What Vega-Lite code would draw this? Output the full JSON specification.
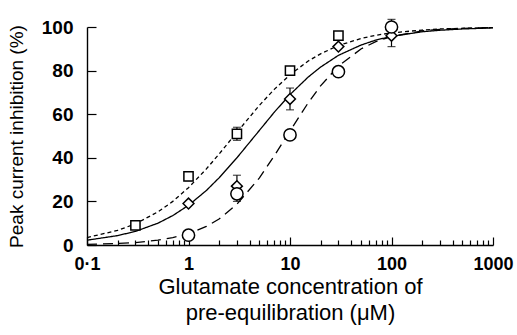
{
"$schema": "https://vega.github.io/schema/vega-lite/v6.json",
"width": 406, "height": 218,
"autosize": "none",
"padding": {"left": 87, "top": 27, "right": 24, "bottom": 90},
"background": "white",
"config": {
  "view": {"stroke": null},
  "font": "Liberation Sans",
  "axis": {"domainColor": "black", "tickColor": "black", "labelColor": "black", "titleColor": "black", "domainWidth": 1.4, "tickWidth": 1.2, "labelFontSize": 18, "labelFontWeight": "bold", "titleFontSize": 19, "titleFontWeight": "normal", "grid": false}
},
"datasets": {
  "curves": [
    {"series":"sq","x":0.1,"y":3.4},{"series":"sq","x":0.2,"y":6.7},{"series":"sq","x":0.3,"y":9.7},{"series":"sq","x":0.5,"y":15.2},{"series":"sq","x":0.7,"y":20},{"series":"sq","x":1,"y":26.3},{"series":"sq","x":1.5,"y":34.9},{"series":"sq","x":2,"y":41.7},{"series":"sq","x":3,"y":51.7},{"series":"sq","x":5,"y":64.1},{"series":"sq","x":7,"y":71.4},{"series":"sq","x":10,"y":78.1},{"series":"sq","x":15,"y":84.3},{"series":"sq","x":20,"y":87.7},{"series":"sq","x":30,"y":91.5},{"series":"sq","x":50,"y":94.7},{"series":"sq","x":70,"y":96.2},{"series":"sq","x":100,"y":97.3},{"series":"sq","x":200,"y":98.6},{"series":"sq","x":300,"y":99.1},{"series":"sq","x":500,"y":99.4},{"series":"sq","x":1000,"y":99.7},
    {"series":"di","x":0.1,"y":2.2},{"series":"di","x":0.2,"y":4.3},{"series":"di","x":0.3,"y":6.25},{"series":"di","x":0.5,"y":10},{"series":"di","x":0.7,"y":13.5},{"series":"di","x":1,"y":18.2},{"series":"di","x":1.5,"y":25},{"series":"di","x":2,"y":30.8},{"series":"di","x":3,"y":40},{"series":"di","x":5,"y":52.6},{"series":"di","x":7,"y":60.9},{"series":"di","x":10,"y":69},{"series":"di","x":15,"y":76.9},{"series":"di","x":20,"y":81.6},{"series":"di","x":30,"y":87},{"series":"di","x":50,"y":91.7},{"series":"di","x":70,"y":94},{"series":"di","x":100,"y":95.7},{"series":"di","x":200,"y":97.8},{"series":"di","x":300,"y":98.5},{"series":"di","x":500,"y":99.1},{"series":"di","x":1000,"y":99.6},
    {"series":"ci","x":0.1,"y":0.3},{"series":"ci","x":0.2,"y":0.7},{"series":"ci","x":0.3,"y":1.1},{"series":"ci","x":0.5,"y":2.2},{"series":"ci","x":0.7,"y":3.4},{"series":"ci","x":1,"y":5.2},{"series":"ci","x":1.5,"y":8.5},{"series":"ci","x":2,"y":11.9},{"series":"ci","x":3,"y":18.7},{"series":"ci","x":5,"y":30.8},{"series":"ci","x":7,"y":40.9},{"series":"ci","x":10,"y":52.3},{"series":"ci","x":15,"y":65},{"series":"ci","x":20,"y":73},{"series":"ci","x":30,"y":82.1},{"series":"ci","x":50,"y":89.9},{"series":"ci","x":70,"y":93.3},{"series":"ci","x":100,"y":95.6},{"series":"ci","x":200,"y":98.2},{"series":"ci","x":300,"y":98.9},{"series":"ci","x":500,"y":99.4},{"series":"ci","x":1000,"y":99.8}
  ],
  "points": [
    {"series":"sq","x":0.3,"y":9},{"series":"sq","x":1,"y":31.5},{"series":"sq","x":3,"y":51},{"series":"sq","x":10,"y":80},{"series":"sq","x":30,"y":96},
    {"series":"di","x":1,"y":19},{"series":"di","x":3,"y":27},{"series":"di","x":10,"y":67},{"series":"di","x":30,"y":91},{"series":"di","x":100,"y":96},
    {"series":"ci","x":1,"y":4.5},{"series":"ci","x":3,"y":23.5},{"series":"ci","x":10,"y":50.5},{"series":"ci","x":30,"y":79.5},{"series":"ci","x":100,"y":100}
  ],
  "errs": [
    {"x":1,"lo":29.5,"hi":31.5},
    {"x":3,"lo":48,"hi":54},
    {"x":3,"lo":27,"hi":32},
    {"x":3,"lo":20,"hi":23.5},
    {"x":10,"lo":62,"hi":72},
    {"x":100,"lo":100,"hi":103.5},
    {"x":100,"lo":91,"hi":96}
  ]
},
"layer": [
  {
    "data": {"name": "curves"},
    "mark": {"type": "line", "color": "black", "strokeWidth": 1.3},
    "encoding": {
      "x": {"field": "x", "type": "quantitative",
        "scale": {"type": "log", "domain": [0.1, 1000]},
        "axis": {
          "values": [0.1,0.2,0.3,0.4,0.5,0.6,0.7,0.8,0.9,1,2,3,4,5,6,7,8,9,10,20,30,40,50,60,70,80,90,100,200,300,400,500,600,700,800,900,1000],
          "labelExpr": "abs(log(datum.value)/LN10 - round(log(datum.value)/LN10)) < 0.000001 ? (datum.value < 1 ? '0·1' : format(datum.value, 'd')) : ''",
          "tickSize": {"condition": {"test": "abs(log(datum.value)/LN10 - round(log(datum.value)/LN10)) < 0.000001", "value": -8}, "value": -5},
          "labelPadding": 18,
          "labelFlush": false,
          "labelOverlap": false,
          "title": ["Glutamate concentration of", "pre-equilibration (μM)"],
          "titleFontSize": 22,
          "titleLineHeight": 26,
          "titlePadding": 0
        }},
      "y": {"field": "y", "type": "quantitative",
        "scale": {"domain": [0, 100]},
        "axis": {"values": [0,20,40,60,80,100], "tickSize": -9, "labelPadding": 23, "labelFontSize": 19, "labelFlush": false,
          "title": "Peak current inhibition (%)", "titleFontSize": 19, "titlePadding": 15}},
      "detail": {"field": "series", "type": "nominal"},
      "strokeDash": {"field": "series", "type": "nominal",
        "scale": {"domain": ["sq","di","ci"], "range": [[4,3],[1,0],[10,6]]}, "legend": null}
    }
  },
  {
    "data": {"name": "errs"},
    "mark": {"type": "rule", "color": "black", "strokeWidth": 1.2},
    "encoding": {
      "x": {"field": "x", "type": "quantitative"},
      "y": {"field": "lo", "type": "quantitative"},
      "y2": {"field": "hi"}
    }
  },
  {
    "data": {"name": "errs"},
    "mark": {"type": "tick", "orient": "horizontal", "color": "black", "size": 8, "thickness": 1.2},
    "encoding": {
      "x": {"field": "x", "type": "quantitative"},
      "y": {"field": "lo", "type": "quantitative"}
    }
  },
  {
    "data": {"name": "errs"},
    "mark": {"type": "tick", "orient": "horizontal", "color": "black", "size": 8, "thickness": 1.2},
    "encoding": {
      "x": {"field": "x", "type": "quantitative"},
      "y": {"field": "hi", "type": "quantitative"}
    }
  },
  {
    "data": {"name": "points"},
    "mark": {"type": "point", "filled": true, "fill": "white", "stroke": "black", "strokeWidth": 1.5, "opacity": 1},
    "encoding": {
      "x": {"field": "x", "type": "quantitative"},
      "y": {"field": "y", "type": "quantitative"},
      "shape": {"field": "series", "type": "nominal", "scale": {"domain": ["sq","di","ci"], "range": ["square","diamond","circle"]}, "legend": null},
      "size": {"field": "series", "type": "nominal", "scale": {"domain": ["sq","di","ci"], "range": [85,150,110]}, "legend": null}
    }
  }
]
}
